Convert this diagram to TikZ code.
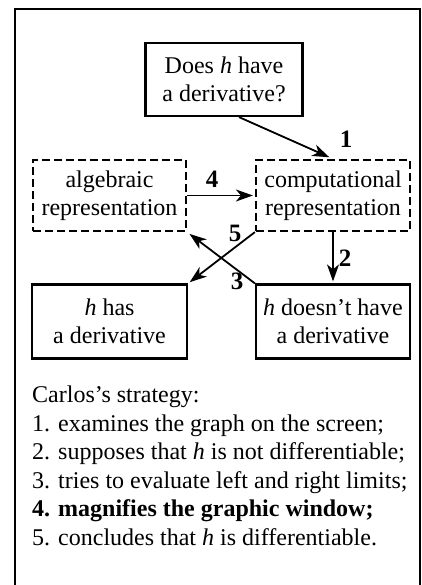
\documentclass[tikz,border=0pt]{standalone}
\usepackage{fontspec}
\setmainfont{Liberation Serif}
\usetikzlibrary{arrows.meta,calc}
\begin{document}
\begin{tikzpicture}[x=1pt,y=-1pt,
  every node/.style={font=\fontsize{24}{28.5}\selectfont},
  solidbox/.style={draw,line width=2.2pt,inner sep=0pt,align=center},
  dashbox/.style={draw,line width=2.2pt,inner sep=0pt,align=center,dash pattern=on 8pt off 4pt},
  conn/.style={line width=1.8pt,-{Stealth[length=17pt,width=12pt,inset=5pt]}},
  numlab/.style={font=\fontsize{25}{28.5}\selectfont\bfseries,inner sep=0pt}]
\useasboundingbox (0,0) rectangle (422,585);
\draw[line width=1.2pt] (15,600) -- (15,9) -- (420,9) -- (420,600);
\node[solidbox,minimum width=157pt,minimum height=73pt] (top) at (224,79.5) {Does \textit{h} have\\a derivative?};
\node[dashbox,minimum width=153pt,minimum height=71pt] (alg) at (109.5,195.5) {algebraic\\representation};
\node[dashbox,minimum width=154pt,minimum height=71pt] (comp) at (333,195.5) {computational\\representation};
\node[solidbox,minimum width=155pt,minimum height=74pt] (has) at (109.5,321.5) {\textit{h} has\\a derivative};
\node[solidbox,minimum width=154pt,minimum height=74pt] (hnot) at (333,321.5) {\textit{h} doesn't have\\a derivative};
\draw[conn,shorten >=4pt] ($(top.south)+(15,0)$) -- (comp.north);
\draw[conn,shorten >=2pt] (alg.east) -- (comp.west);
\draw[conn,shorten >=2pt] (comp.south) -- (hnot.north);
\draw[conn,shorten >=2pt] (comp.south west) -- (has.north east);
\draw[conn,shorten >=3pt] (hnot.north west) -- (alg.south east);
\node[numlab] (n1) at (346,139) {1};
\node[numlab] (n4) at (212,179) {4};
\node[numlab] (n2) at (345,258) {2};
\node[numlab] (n5) at (235,233) {5};
\node[numlab] (n3) at (237,281) {3};
\node[anchor=base west,align=left,inner sep=0pt] (list) at (32,545) {Carlos's strategy:\\
1. examines the graph on the screen;\\
2. supposes that \textit{h} is not differentiable;\\
3. tries to evaluate left and right limits;\\
\textbf{4. magnifies the graphic window;}\\
5. concludes that \textit{h} is differentiable.};
\end{tikzpicture}
\end{document}
